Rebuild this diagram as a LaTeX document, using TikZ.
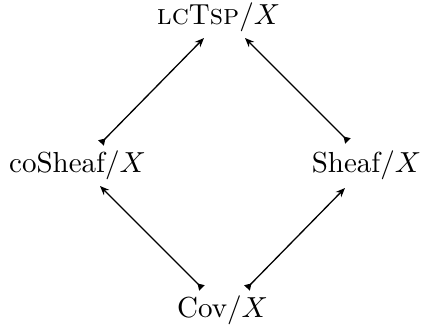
\documentclass[tikz,border=0pt]{standalone}
\usetikzlibrary{arrows.meta,calc}
\begin{document}
\begin{tikzpicture}[x=0.345pt,y=-0.345pt,
  lbl/.style={anchor=base,inner sep=0pt},
  arr/.style={line width=0.45pt,{Triangle[reversed,length=2.2pt,width=2.6pt]}-{Stealth[length=3.2pt,width=2.6pt]}}]
\useasboundingbox (0,0) rectangle (425,329);
\node[lbl] (top) at (218.5,25) {\textsc{lc}T\textsc{sp}$/X$};
\node[lbl] (cs) at (77.5,173) {coSheaf$/X$};
\node[lbl] (sh) at (366.5,173) {Sheaf$/X$};
\node[lbl] (cov) at (222.5,318) {Cov$/X$};
\draw[arr] ($(cs.base)+(23.5,-30)$) -- ($(top.base)+(-14.5,13)$);
\draw[arr] ($(sh.base)+(-18.5,-32)$) -- ($(top.base)+(26.5,13)$);
\draw[arr] ($(cov.base)+(-20.5,-30)$) -- ($(cs.base)+(22.5,13)$);
\draw[arr] ($(cov.base)+(24.5,-30)$) -- ($(sh.base)+(-21.5,15)$);
\end{tikzpicture}
\end{document}
